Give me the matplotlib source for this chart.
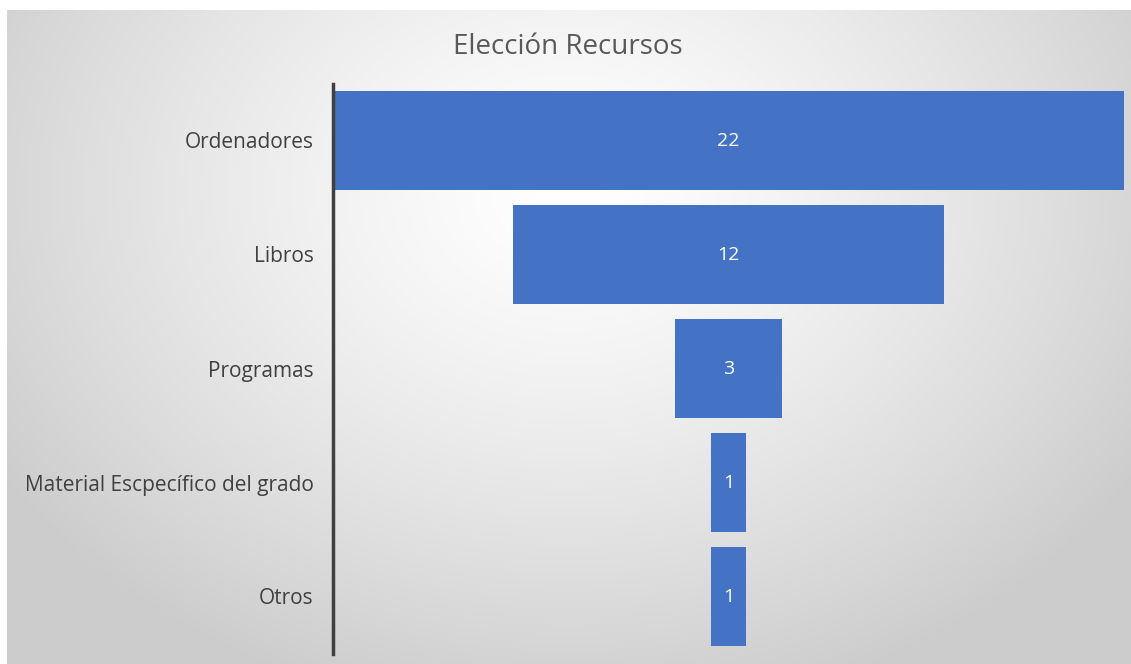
import numpy as np
import matplotlib
matplotlib.use("Agg")
import matplotlib.pyplot as plt

plt.rcParams['font.family'] = ['Open Sans', 'DejaVu Sans']

# data
categories = ['Ordenadores', 'Libros', 'Programas', 'Material Escpecífico del grado', 'Otros']
values = [22, 12, 3, 1, 1]
title = 'Elección Recursos'

W, H = 1131, 664
fig = plt.figure(figsize=(W / 100, H / 100), dpi=100)
fig.patch.set_facecolor('white')

# radial gray gradient background panel
bg = fig.add_axes([7 / W, 0, 1 - 7 / W, 1 - 10 / H])
bg.set_axis_off()
yy, xx = np.mgrid[-1:1:300j, -1:1:500j]
r = np.sqrt((xx * 0.95) ** 2 + ((yy + 0.45) * 0.7) ** 2)
r = np.clip(r / 1.15, 0, 1)
shade = 1.0 - 0.20 * r ** 1.3
bg.imshow(np.dstack([shade] * 3), aspect='auto', extent=[0, 1, 0, 1])

# funnel axes
x0, x1 = 333, 1124
ytop, ybot = 83.5, 653.5
ax = fig.add_axes([x0 / W, 1 - ybot / H, (x1 - x0) / W, (ybot - ytop) / H])
ax.patch.set_alpha(0)
pos = np.arange(len(categories))
vals = np.array(values, dtype=float)
ax.barh(pos, vals, left=-vals / 2, height=0.86, color='#4472C4')
for p, v in zip(pos, values):
    ax.text(0, p, str(v), ha='center', va='center', color='white', fontsize=14)

ax.set_xlim(-max(values) / 2, max(values) / 2)
ax.set_ylim(len(categories) - 0.5, -0.5)
ax.set_yticks(pos)
ax.set_yticklabels(categories, fontsize=15, color='#404040')
ax.tick_params(axis='y', length=0, pad=14)
ax.set_xticks([])
for s in ['top', 'right', 'bottom']:
    ax.spines[s].set_visible(False)
ax.spines['left'].set_color('#404040')
ax.spines['left'].set_linewidth(2.5)

fig.text(568 / W, 1 - 47 / H, title, ha='center', va='center', fontsize=20, color='#595959')

fig.savefig('out.png', dpi=100)
